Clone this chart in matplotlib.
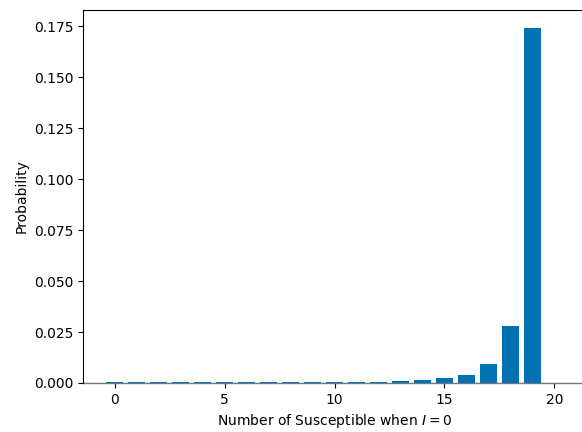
import matplotlib
matplotlib.use("Agg")
import matplotlib.pyplot as plt
import numpy as np

susceptible = list(range(21))
probability = [0.0004, 0.0004, 0.0004, 0.0004, 0.0004, 0.0004, 0.0004, 0.0004,
               0.0004, 0.0004, 0.0004, 0.0004, 0.0004, 0.0010, 0.0015, 0.0025,
               0.0041, 0.0095, 0.0279, 0.1742, 0.0]

fig = plt.figure(figsize=(5.82, 4.32), dpi=100)
ax = fig.add_axes([83/582, 1-383/432, (586-83)/582, (383-10)/432])
ax.bar(susceptible, probability, width=0.8, color="#0072B2", zorder=3)
ax.set_xlabel("Number of Susceptible when $I = 0$")
ax.set_ylabel("Probability")
ax.set_xticks([0, 5, 10, 15, 20])
ax.spines["bottom"].set_color("#777777")
ax.spines["bottom"].set_linewidth(1.0)
ax.spines["bottom"].set_zorder(2)
fig.savefig("out.png", dpi=100)
